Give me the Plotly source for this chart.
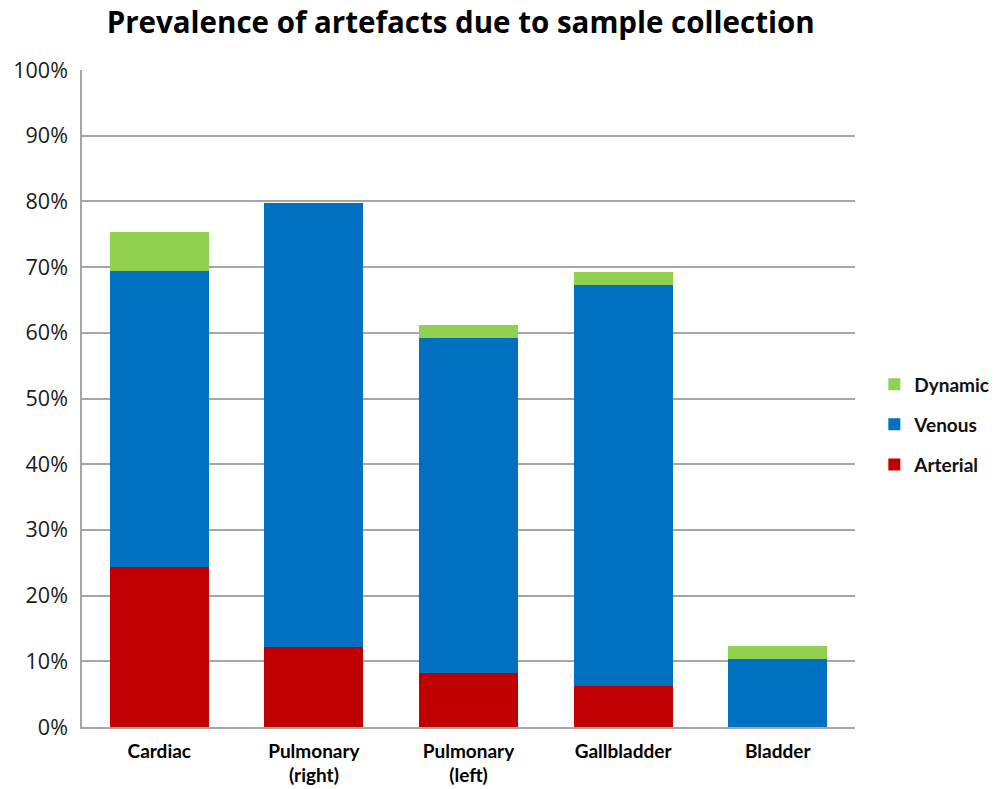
import plotly.graph_objects as go

categories = ["Cardiac", "Pulmonary<br>(right)", "Pulmonary<br>(left)", "Gallbladder", "Bladder"]
arterial = [24.3, 12.2, 8.2, 6.2, 0.0]
venous = [45.1, 67.5, 51.0, 61.1, 10.3]
dynamic = [6.0, 0.0, 2.0, 2.0, 2.0]

# (name, values, colour, legend position)
series = [
    ("Arterial", arterial, "#C00000", 3),
    ("Venous", venous, "#0070C0", 2),
    ("Dynamic", dynamic, "#92D050", 1),
]

fig = go.Figure()
for name, vals, color, rank in series:
    fig.add_trace(go.Bar(
        x=categories,
        y=vals,
        name="<b>" + name + "</b>",
        legendgroup=name,
        legendrank=rank,
        marker=dict(color=color, line=dict(width=0)),
    ))

fig.update_layout(
    barmode="stack",
    bargap=0.36,
    width=1008,
    height=789,
    margin=dict(l=82, r=153, t=70, b=62, autoexpand=False),
    paper_bgcolor="white",
    plot_bgcolor="white",
    font=dict(family="Open Sans, Lato, sans-serif", color="#000000"),
    title=dict(
        text="<b>Prevalence of artefacts due to sample collection</b>",
        x=0.457, xanchor="center", y=0.971, yanchor="middle",
        font=dict(size=29.5, family="Open Sans, Lato, sans-serif", color="#000000"),
    ),
    legend=dict(
        traceorder="grouped",
        x=1.025, xanchor="left", y=0.46, yanchor="middle",
        font=dict(size=19, family="Lato, Open Sans, sans-serif", color="#111111"),
        itemsizing="constant",
        tracegroupgap=12.5,
        itemwidth=30,
    ),
    yaxis=dict(
        range=[0, 100],
        tickvals=[0, 10, 20, 30, 40, 50, 60, 70, 80, 90, 100],
        ticktext=["0%", "10%", "20%", "30%", "40%", "50%", "60%", "70%", "80%", "90%", "100%"],
        showgrid=True,
        gridcolor="#A6A6A6",
        gridwidth=1.5,
        showline=True,
        linecolor="#A6A6A6",
        linewidth=1.5,
        ticks="",
        ticklen=0,
        ticklabelstandoff=8,
        automargin=False,
        tickfont=dict(size=21.5, family="Open Sans, sans-serif", color="#1a1a1a"),
        zeroline=False,
    ),
    xaxis=dict(
        showline=True,
        linecolor="#A6A6A6",
        linewidth=1.5,
        ticks="",
        ticklabelstandoff=6,
        automargin=False,
        tickfont=dict(size=19, family="Lato, Open Sans, sans-serif", color="#000000"),
        tickangle=0,
    ),
)

# bold category labels
fig.update_xaxes(
    tickvals=categories,
    ticktext=["<b>" + c + "</b>" for c in categories],
)

fig.write_html("out.html")
